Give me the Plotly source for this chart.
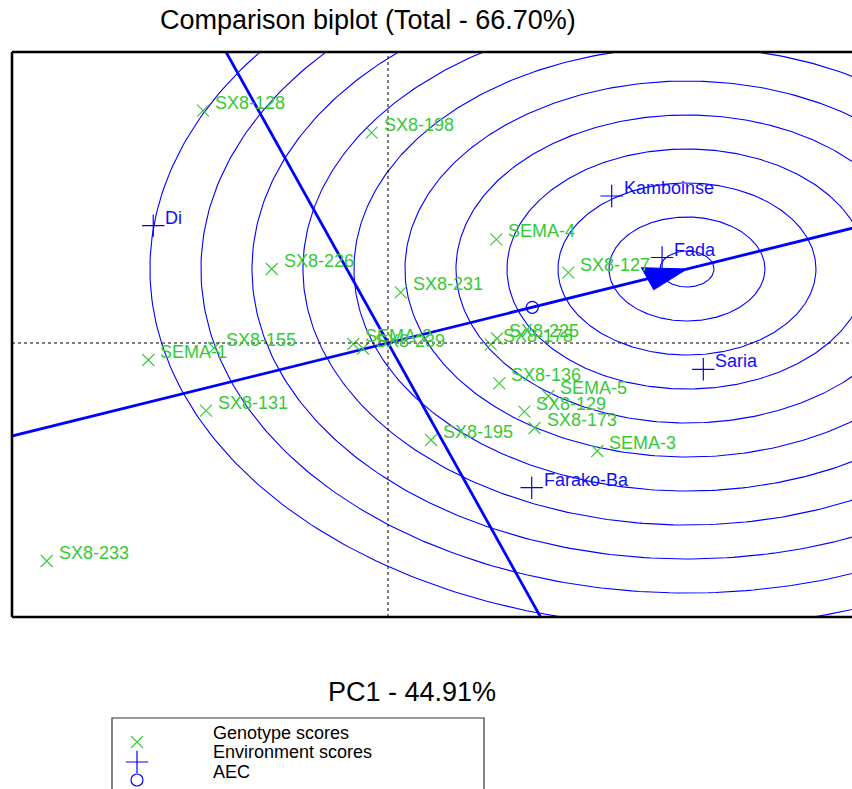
import numpy as np
import plotly.graph_objects as go

# ---------------- data ----------------
genotypes = ["SX8-128", "SX8-198", "SX8-226", "SX8-231", "SEMA-4", "SX8-127",
             "SX8-225", "SX8-178", "SEMA-2", "SX8-239", "SX8-155", "SEMA-1",
             "SX8-131", "SX8-136", "SEMA-5", "SX8-129", "SX8-173", "SEMA-3",
             "SX8-195", "SX8-233"]
gen_pc1 = [-1.233, -0.109, -0.775, 0.085, 0.722, 1.202,
           0.727, 0.685, -0.231, -0.167, -1.160, -1.598,
           -1.213, 0.742, 1.069, 0.909, 0.977, 1.395,
           0.287, -2.275]
gen_pc2 = [2.323, 2.103, 0.740, 0.507, 1.037, 0.703,
           0.045, -0.013, -0.010, -0.055, -0.050, -0.170,
           -0.677, -0.403, -0.530, -0.687, -0.850, -1.080,
           -0.970, -2.180]

environments = ["Kamboinse", "Fada", "Di", "Saria", "Farako-Ba"]
env_pc1 = [1.491, 1.827, -1.565, 2.102, 0.958]
env_pc2 = [1.470, 0.855, 1.173, -0.263, -1.447]

aec_point = [0.962, 0.357]        # average environment coordinate
ideal_point = [1.993, 0.740]      # ideal genotype (centre of the rings)
ring_radii = [0.18, 0.52, 0.86, 1.20, 1.54, 1.88, 2.22, 2.56, 2.90, 3.24, 3.58]

title_text = "Comparison biplot (Total - 66.70%)"
pc1_label = "PC1 - 44.91%"
legend_labels = ["Genotype scores", "Environment scores", "AEC"]

# ---------------- layout constants ----------------
W, H = 852, 789
X_RANGE = [-2.5067, 3.0933]
Y_RANGE = [-2.74, 2.91]
PX_L, PX_T, PX_B = 12, 52, 617
FONT = "Arial, 'Liberation Sans', sans-serif"
GREEN = "#36c936"
BLUE = "#0000ff"
TBLUE = "#1010f0"

fig = go.Figure()

# concentric rings around the ideal genotype
t = np.linspace(0, 2 * np.pi, 400)
for r in ring_radii:
    fig.add_trace(go.Scatter(
        x=ideal_point[0] + r * np.cos(t), y=ideal_point[1] + r * np.sin(t),
        mode="lines", line=dict(color=BLUE, width=1.1),
        hoverinfo="skip", showlegend=False))

# AEC abscissa and the perpendicular ordinate through the origin
ux, uy = np.array(aec_point) / np.hypot(*aec_point)
s = np.array([-20, 20])
fig.add_trace(go.Scatter(x=s * ux, y=s * uy, mode="lines",
                         line=dict(color=BLUE, width=2.8),
                         hoverinfo="skip", showlegend=False))
fig.add_trace(go.Scatter(x=s * (-uy), y=s * ux, mode="lines",
                         line=dict(color=BLUE, width=2.8),
                         hoverinfo="skip", showlegend=False))

# arrow head at the ideal genotype
alen, ahw = 0.28, 0.118
cx, cy = ideal_point
bx, by = cx - alen * ux, cy - alen * uy
fig.add_trace(go.Scatter(
    x=[cx, bx - ahw * uy, bx + ahw * uy, cx],
    y=[cy, by + ahw * ux, by - ahw * ux, cy],
    mode="lines", fill="toself", fillcolor=BLUE,
    line=dict(color=BLUE, width=1), hoverinfo="skip", showlegend=False))

# genotype scores
fig.add_trace(go.Scatter(
    x=gen_pc1, y=gen_pc2, mode="markers",
    marker=dict(symbol="x-thin", size=12, line=dict(color=GREEN, width=1.1)),
    showlegend=False, text=genotypes, hoverinfo="text"))
# environment scores
fig.add_trace(go.Scatter(
    x=env_pc1, y=env_pc2, mode="markers",
    marker=dict(symbol="cross-thin", size=16, line=dict(color=BLUE, width=1.2)),
    showlegend=False, text=environments, hoverinfo="text"))
# AEC marker
fig.add_trace(go.Scatter(
    x=[aec_point[0]], y=[aec_point[1]], mode="markers",
    marker=dict(symbol="circle-open", size=12, color=BLUE, line=dict(color=BLUE, width=1.2)),
    showlegend=False, hoverinfo="skip"))

annotations = []
for name, x, y in zip(genotypes, gen_pc1, gen_pc2):
    annotations.append(dict(x=x, y=y, xref="x", yref="y", text=name, showarrow=False,
                            xanchor="left", yanchor="middle", xshift=10, yshift=8,
                            font=dict(family=FONT, size=18, color=GREEN)))
for name, x, y in zip(environments, env_pc1, env_pc2):
    annotations.append(dict(x=x, y=y, xref="x", yref="y", text=name, showarrow=False,
                            xanchor="left", yanchor="middle", xshift=10, yshift=8,
                            font=dict(family=FONT, size=18, color=TBLUE)))

# titles
annotations.append(dict(x=368 / W, y=1 - 20 / H, xref="paper", yref="paper",
                        text=title_text, showarrow=False, xanchor="center", yanchor="middle",
                        font=dict(family=FONT, size=27, color="black")))
annotations.append(dict(x=412 / W, y=1 - 692 / H, xref="paper", yref="paper",
                        text=pc1_label, showarrow=False, xanchor="center", yanchor="middle",
                        font=dict(family=FONT, size=27, color="black")))

# legend (own little axis in pixel units)
leg_text_y = [733, 752, 772]
leg_mark_y = [742, 762, 780]
for lab, ty in zip(legend_labels, leg_text_y):
    annotations.append(dict(x=211 / W, y=1 - ty / H, xref="paper", yref="paper",
                            text=lab, showarrow=False, xanchor="left", yanchor="middle",
                            font=dict(family=FONT, size=18, color="black")))
fig.add_trace(go.Scatter(x=[137], y=[leg_mark_y[0]], xaxis="x2", yaxis="y2", mode="markers",
                         marker=dict(symbol="x-thin", size=12, line=dict(color=GREEN, width=1.1)),
                         showlegend=False, hoverinfo="skip"))
fig.add_trace(go.Scatter(x=[137], y=[leg_mark_y[1]], xaxis="x2", yaxis="y2", mode="markers",
                         marker=dict(symbol="cross-thin", size=16, line=dict(color=BLUE, width=1.2)),
                         showlegend=False, hoverinfo="skip"))
fig.add_trace(go.Scatter(x=[137], y=[leg_mark_y[2]], xaxis="x2", yaxis="y2", mode="markers",
                         marker=dict(symbol="circle-open", size=12, color=BLUE,
                                     line=dict(color=BLUE, width=1.2)),
                         showlegend=False, hoverinfo="skip"))

shapes = [
    # dotted axes through origin
    dict(type="line", xref="x", yref="y", x0=0, x1=0, y0=Y_RANGE[0], y1=Y_RANGE[1],
         line=dict(color="black", width=1, dash="dot")),
    dict(type="line", xref="x", yref="y", x0=X_RANGE[0], x1=X_RANGE[1], y0=0, y1=0,
         line=dict(color="black", width=1, dash="dot")),
    # frame (right side is cut off in the reference)
    dict(type="line", xref="paper", yref="paper", x0=PX_L / W, x1=PX_L / W,
         y0=1 - PX_B / H, y1=1 - PX_T / H, line=dict(color="black", width=2.6)),
    dict(type="line", xref="paper", yref="paper", x0=PX_L / W, x1=1.01,
         y0=1 - PX_T / H, y1=1 - PX_T / H, line=dict(color="black", width=2.6)),
    dict(type="line", xref="paper", yref="paper", x0=PX_L / W, x1=1.01,
         y0=1 - PX_B / H, y1=1 - PX_B / H, line=dict(color="black", width=2.6)),
    # legend box
    dict(type="rect", xref="paper", yref="paper", x0=112 / W, x1=484 / W,
         y0=-0.05, y1=1 - 718 / H, line=dict(color="#333333", width=1.2)),
]

axis_off = dict(showgrid=False, zeroline=False, showticklabels=False, ticks="",
                showline=False, fixedrange=True)
fig.update_layout(
    width=W, height=H, autosize=False,
    margin=dict(l=0, r=0, t=0, b=0),
    paper_bgcolor="white", plot_bgcolor="rgba(0,0,0,0)",
    xaxis=dict(domain=[PX_L / W, 1], range=X_RANGE, **axis_off),
    yaxis=dict(domain=[1 - PX_B / H, 1 - PX_T / H], range=Y_RANGE, **axis_off),
    xaxis2=dict(domain=[0, 1], range=[0, W], anchor="y2", **axis_off),
    yaxis2=dict(domain=[0, 0.2], range=[H, H - 0.2 * H], anchor="x2", **axis_off),
    shapes=shapes, annotations=annotations, showlegend=False,
)

fig.write_html("out.html", config={"displayModeBar": False},
               post_script="document.body.style.margin='0';")
